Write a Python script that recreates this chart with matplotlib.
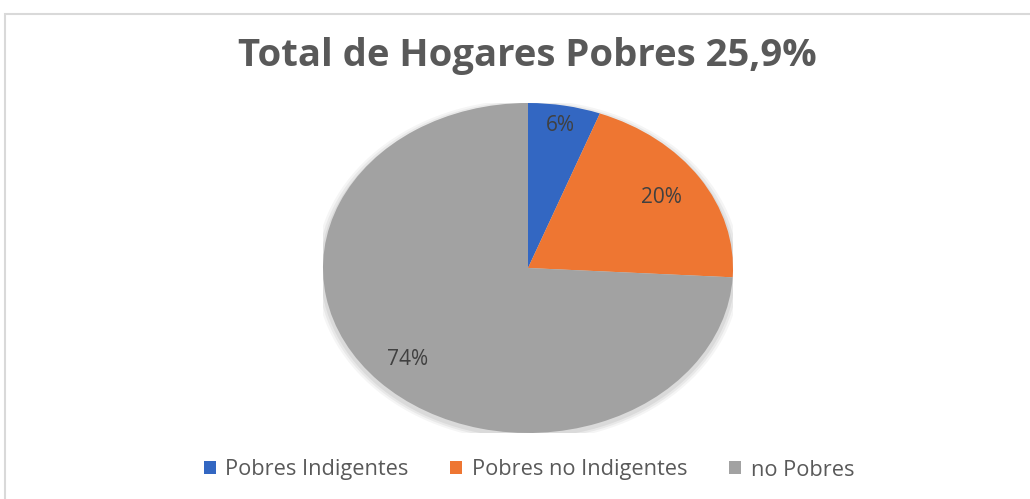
import matplotlib
matplotlib.use("Agg")
import matplotlib.pyplot as plt
from matplotlib.patches import Rectangle, Ellipse, Patch
import math

categories = ["Pobres Indigentes", "Pobres no Indigentes", "no Pobres"]
values = [5.7, 20.2, 74.1]
labels_pct = ["6%", "20%", "74%"]
colors = ["#3367C2", "#EE7632", "#A2A2A2"]
title = "Total de Hogares Pobres 25,9%"

W, H = 1030, 499
fig = plt.figure(figsize=(W / 100, H / 100), dpi=100)
fig.patch.set_facecolor("white")

# outer frame
fig.add_artist(Rectangle((5 / W, -0.1), 1.2, (H - 14) / H + 0.1, transform=fig.transFigure,
                         fill=False, edgecolor="#D9D9D9", linewidth=1.5))

cx, cy, rx, ry = 528, H - 268, 205, 165
ax = fig.add_axes([(cx - rx) / W, (cy - ry) / H, 2 * rx / W, 2 * ry / H])
# soft shadow
for i, a in enumerate([0.06, 0.05, 0.04]):
    s = 1 + 0.012 * (i + 1)
    ax.add_patch(Ellipse((0.0, -0.015), 2 * s, 2 * s, facecolor="#000000", alpha=a,
                         edgecolor="none", zorder=0))
wedges, texts = ax.pie(values, colors=colors, startangle=90, counterclock=False,
                       radius=1, wedgeprops=dict(linewidth=0))
ax.set_aspect("auto")
ax.set_xlim(-1.0, 1.0)
ax.set_ylim(-1.0, 1.0)
ax.axis("off")

dists = [0.88, 0.78, 0.81]
start = 90.0
total = sum(values)
for v, lab, d in zip(values, labels_pct, dists):
    ang = start - 360 * v / total / 2
    start -= 360 * v / total
    x = d * math.cos(math.radians(ang))
    y = d * math.sin(math.radians(ang))
    ax.text(x, y, lab, ha="center", va="center", fontsize=15, color="#404040",
            family="Open Sans")

fig.text(527 / W, 1 - 56 / H, title, ha="center", va="center", fontsize=27.5,
         fontweight="bold", color="#595959", family="Open Sans")

handles = [Patch(facecolor=c, edgecolor="none") for c in colors]
fig.legend(handles, categories, loc="center", bbox_to_anchor=(529 / W, 1 - 470 / H),
           ncol=3, frameon=False, handlelength=0.55, handleheight=0.55,
           handletextpad=0.45, columnspacing=1.9, labelcolor="#595959",
           prop={"family": "Open Sans", "size": 15.7})

fig.savefig("out.png", dpi=100, facecolor="white")
